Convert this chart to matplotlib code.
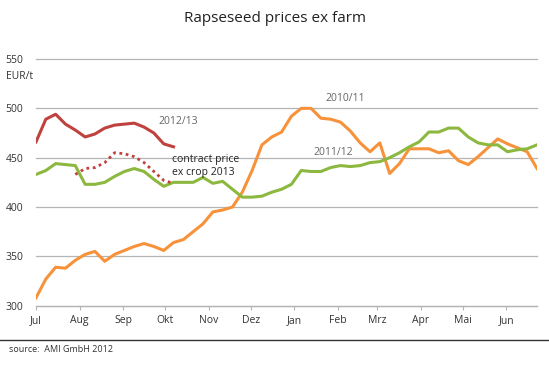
import matplotlib
matplotlib.use('Agg')
import matplotlib.pyplot as plt
from matplotlib.lines import Line2D
import numpy as np
import pandas as pd

plt.rcParams['font.family'] = ['Open Sans', 'DejaVu Sans']

# weekly prices ex farm, EUR/t, week 0 = start of July
p_2010 = [308, 327, 339, 338, 346, 352, 355, 345, 352, 356, 360, 363, 360, 356,
          364, 367, 375, 383, 395, 397, 400, 415, 437, 463, 471, 476, 492, 500,
          500, 490, 489, 486, 477, 465, 456, 465, 434, 444, 459, 459, 459, 455,
          457, 447, 443, 451, 460, 469, 464, 460, 456, 439]
p_2011 = [433, 437, 444, 443, 442, 423, 423, 425, 431, 436, 439, 436, 428, 421,
          425, 425, 425, 430, 424, 426, 418, 410, 410, 411, 415, 418, 423, 437,
          436, 436, 440, 442, 441, 442, 445, 446, 450, 455, 461, 466, 476, 476,
          480, 480, 471, 465, 463, 463, 456, 458, 459, 463]
p_2012 = [466, 489, 494, 484, 478, 471, 474, 480, 483, 484, 485, 481, 475, 464, 461]
contract = [433, 439, 440, 445, 455, 454, 451, 445, 436, 427, 424]
contract_start = 4

months = ['Jul', 'Aug', 'Sep', 'Okt', 'Nov', 'Dez', 'Jan', 'Feb', 'Mrz', 'Apr', 'Mai', 'Jun']
yticks = [300, 350, 400, 450, 500, 550]

orange = '#F7923A'
green = '#8DB83F'
red = '#C0423F'

fig = plt.figure(figsize=(5.49, 3.77), dpi=100)
ax = fig.add_axes([36/549, 71.3/377, 501/549, 246.7/377])

wk = np.arange(len(p_2010))
ax.plot(wk, p_2010, color=orange, lw=2.2, solid_joinstyle='round')
ax.plot(np.arange(len(p_2011)), p_2011, color=green, lw=2.2, solid_joinstyle='round')
ax.plot(np.arange(len(p_2012)), p_2012, color=red, lw=2.2, solid_joinstyle='round')
ax.plot(np.arange(len(contract)) + contract_start, contract, color=red, lw=2.0,
        linestyle=(0, (1, 1.3)))

# month ticks at the first day of each month, in weeks
starts = pd.date_range('2010-07-01', periods=12, freq='MS')
mpos = (starts - starts[0]).days / 7.0
ax.set_xticks(mpos)
ax.set_xticklabels(months)
ax.set_xlim(0, len(p_2010) - 1)
ax.set_ylim(300, 550)
ax.set_yticks(yticks)

ax.grid(axis='y', color='#B4B4B4', lw=0.9)
for gl in ax.get_ygridlines():
    gl.set_clip_on(False)
ax.set_axisbelow(True)
for s in ['top', 'right', 'left']:
    ax.spines[s].set_visible(False)
ax.spines['bottom'].set_color('#B4B4B4')
ax.spines['bottom'].set_linewidth(0.9)
ax.tick_params(axis='x', length=3, color='#B4B4B4', labelsize=7.5, labelcolor='#333333', pad=4)
ax.tick_params(axis='y', length=0, labelsize=7.5, labelcolor='#333333', pad=9)

ax.text(-0.06, 0.931, 'EUR/t', transform=ax.transAxes, fontsize=7.5, color='#333333',
        ha='left', va='center')

ax.text(12.5, 487, '2012/13', fontsize=7.5, color='#666666', va='center')
ax.text(29.5, 509.5, '2010/11', fontsize=7.5, color='#666666', va='center')
ax.text(28.2, 455, '2011/12', fontsize=7.5, color='#666666', va='center')
ax.text(13.8, 454, 'contract price\nex crop 2013', fontsize=7.5, color='#222222',
        va='top', linespacing=1.25)

fig.text(0.5, 1 - 19/377, 'Rapseseed prices ex farm', ha='center', va='center',
         fontsize=11, color='#222222')
fig.add_artist(Line2D([0, 1], [1 - 340/377, 1 - 340/377], color='#333333', lw=1))
fig.text(9/549, 1 - 349/377, 'source:  AMI GmbH 2012', ha='left', va='center',
         fontsize=6.5, color='#333333')

fig.savefig('out.png', dpi=100)
